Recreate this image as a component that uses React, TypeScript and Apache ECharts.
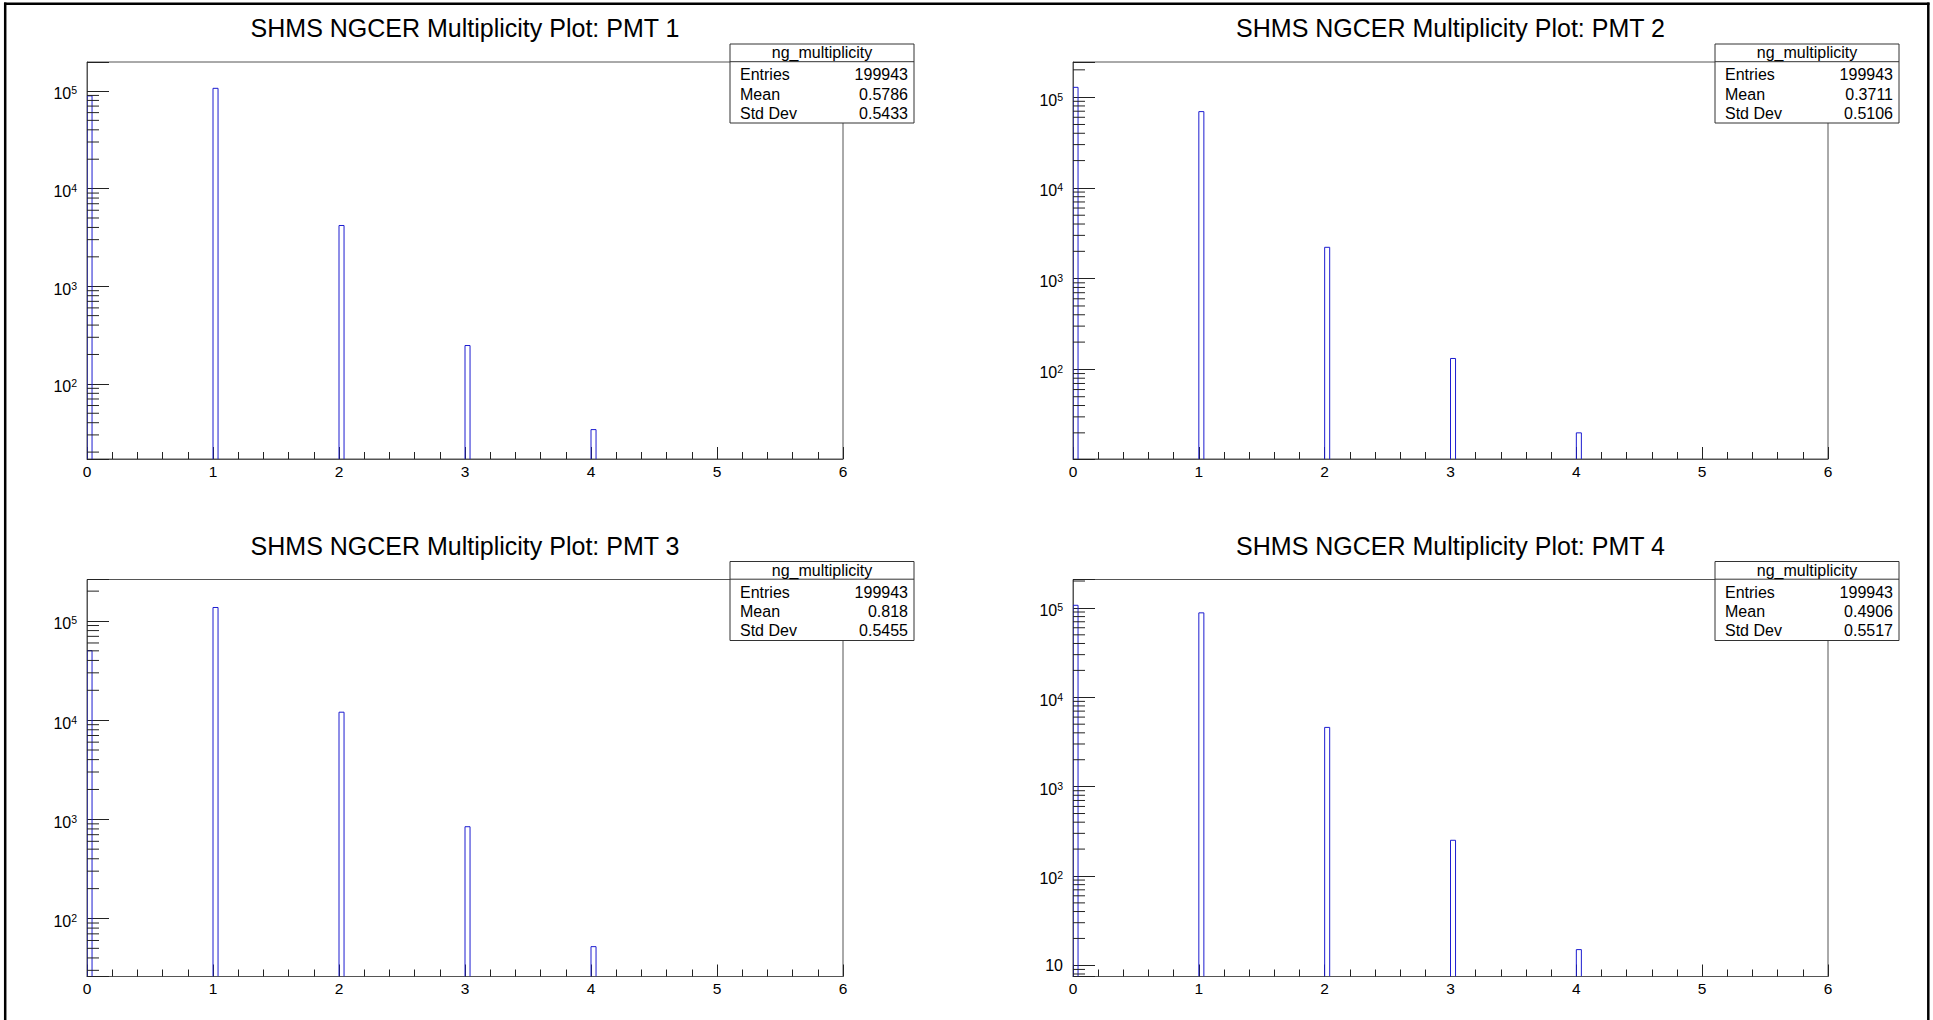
import React, { useEffect, useRef } from "react";
import * as echarts from "echarts";

// ---- Data -------------------------------------------------------------
const PANEL_TITLES = [
  "SHMS NGCER Multiplicity Plot: PMT 1",
  "SHMS NGCER Multiplicity Plot: PMT 2",
  "SHMS NGCER Multiplicity Plot: PMT 3",
  "SHMS NGCER Multiplicity Plot: PMT 4",
];

// hit multiplicity values (bin low edges) and bin width of the histogram
const MULTIPLICITY = [0, 1, 2, 3, 4];
const BIN_WIDTH = 0.04;

// counts per multiplicity, one array per PMT
const PMT1_COUNTS = [89041, 106432, 4189, 247, 34];
const PMT2_COUNTS = [128284, 69291, 2216, 132, 20];
const PMT3_COUNTS = [50257, 136765, 12027, 842, 52];
const PMT4_COUNTS = [106999, 88077, 4601, 251, 15];
const PMT_COUNTS = [PMT1_COUNTS, PMT2_COUNTS, PMT3_COUNTS, PMT4_COUNTS];

// axis ranges
const X_MIN = 0;
const X_MAX = 6;
const X_INTERVAL = 1;
const Y_MIN = [17, 10.3, 26, 7.5];
const Y_MAX = [1.98e5, 2.44e5, 2.62e5, 2.08e5];
const LOG_MINOR_MULTIPLIERS = [2, 3, 4, 5, 6, 7, 8, 9];
const LOG_DECADES = [0, 1, 2, 3, 4, 5];

// statistics boxes
const HIST_NAME = "ng_multiplicity";
const STAT_LABELS = ["Entries", "Mean", "Std Dev"];
const STAT_ENTRIES = ["199943", "199943", "199943", "199943"];
const STAT_MEAN = ["0.5786", "0.3711", "0.818", "0.4906"];
const STAT_STDDEV = ["0.5433", "0.5106", "0.5455", "0.5517"];

// ---- Layout / style ----------------------------------------------------
const FONT = "Liberation Sans, Arial, Helvetica, sans-serif";
const FRAMES = [
  { left: 87, top: 62, width: 756, height: 397 },
  { left: 1073, top: 62, width: 755, height: 397 },
  { left: 87, top: 579.5, width: 756, height: 397 },
  { left: 1073, top: 579.5, width: 755, height: 397 },
];
const FRAME_COLOR = "#555555";
const TICK_COLOR = "#222222";
const BAR_COLOR = "#1c1cd0";
const STAT_FONT_SIZE = 16;

function powerLabel(v: number): string {
  const e = Math.log10(v);
  const k = Math.round(e);
  if (Math.abs(e - k) > 1e-6) return "";
  if (k === 1) return "{p|10}";
  return `{b|10}{s|${k}}`;
}

function buildOption(): any {
  const grids: any[] = [];
  const xAxes: any[] = [];
  const yAxes: any[] = [];
  const series: any[] = [];
  const graphics: any[] = [];

  FRAMES.forEach((f, i) => {
    grids.push({
      left: f.left,
      top: f.top,
      width: f.width,
      height: f.height,
      show: true,
      borderColor: FRAME_COLOR,
      borderWidth: 1,
      backgroundColor: "transparent",
      containLabel: false,
      outerBoundsMode: "none",
    });

    xAxes.push({
      type: "value",
      gridIndex: i,
      min: X_MIN,
      max: X_MAX,
      interval: X_INTERVAL,
      axisLine: { show: true, onZero: false, lineStyle: { color: FRAME_COLOR, width: 1 } },
      axisTick: { show: true, inside: true, length: 12, lineStyle: { color: TICK_COLOR, width: 1 } },
      minorTick: { show: true, splitNumber: 5, length: 7, lineStyle: { color: TICK_COLOR, width: 1 } },
      splitLine: { show: false },
      minorSplitLine: { show: false },
      axisLabel: {
        show: true,
        margin: 4,
        color: "#000",
        fontFamily: FONT,
        fontSize: 15.5,
        formatter: (v: number) => String(v),
      },
    });

    yAxes.push({
      type: "log",
      logBase: 10,
      gridIndex: i,
      min: Y_MIN[i],
      max: Y_MAX[i],
      axisLine: { show: true, lineStyle: { color: FRAME_COLOR, width: 1 } },
      axisTick: { show: true, inside: true, length: 22, lineStyle: { color: TICK_COLOR, width: 1 } },
      splitLine: { show: false },
      minorTick: { show: false },
      minorSplitLine: { show: false },
      axisLabel: {
        show: true,
        margin: 10,
        color: "#000",
        fontFamily: FONT,
        formatter: powerLabel,
        rich: {
          b: { fontSize: 16, lineHeight: 16, padding: [6, 0, 0, 0], fontFamily: FONT, color: "#000" },
          s: { fontSize: 10.5, lineHeight: 11, padding: [5, 0, 6, 0], fontFamily: FONT, color: "#000" },
          p: { fontSize: 16, lineHeight: 16, fontFamily: FONT, color: "#000" },
        },
      },
    });

    // histogram bins as open outlines
    const counts = PMT_COUNTS[i];
    const binData = MULTIPLICITY.map((m, j) => [m, m + BIN_WIDTH, counts[j]]);
    series.push({
      type: "custom",
      xAxisIndex: i,
      yAxisIndex: i,
      clip: true,
      silent: true,
      encode: { x: [0, 1], y: 2 },
      data: binData,
      renderItem: (params: any, api: any) => {
        const cs = params.coordSys;
        const base = cs.y + cs.height;
        const pL = api.coord([api.value(0), api.value(2)]);
        const pR = api.coord([api.value(1), api.value(2)]);
        return {
          type: "polyline",
          shape: { points: [[pL[0], base], pL, pR, [pR[0], base]] },
          style: { fill: "none", stroke: BAR_COLOR, lineWidth: 1 },
        };
      },
      z: 3,
    });

    // logarithmic minor ticks on the y axis (2..9 x 10^k)
    const minorValues: number[][] = [];
    LOG_DECADES.forEach((d) => {
      LOG_MINOR_MULTIPLIERS.forEach((m) => {
        const v = m * Math.pow(10, d);
        if (v >= Y_MIN[i] && v <= Y_MAX[i]) minorValues.push([X_MIN, v]);
      });
    });
    series.push({
      type: "custom",
      xAxisIndex: i,
      yAxisIndex: i,
      clip: false,
      silent: true,
      encode: { x: 0, y: 1 },
      data: minorValues,
      renderItem: (params: any, api: any) => {
        const cs = params.coordSys;
        const y = api.coord([api.value(0), api.value(1)])[1];
        return {
          type: "line",
          shape: { x1: cs.x, y1: y, x2: cs.x + 12, y2: y },
          style: { stroke: TICK_COLOR, lineWidth: 1 },
        };
      },
      z: 4,
    });

    // title
    graphics.push({
      type: "text",
      x: f.left + f.width / 2,
      y: f.top - 34,
      z: 50,
      style: {
        text: PANEL_TITLES[i],
        fontFamily: FONT,
        fontSize: 25,
        fill: "#000",
        align: "center",
        verticalAlign: "middle",
      },
    });

    // statistics box
    const right = f.left + f.width;
    const bx = right - 113;
    const by = f.top - 18;
    const bw = 184;
    const bh = 79;
    const headH = 17.7;
    const rowYs = [by + 30.6, by + 50, by + 69.3];
    const values = [STAT_ENTRIES[i], STAT_MEAN[i], STAT_STDDEV[i]];
    const children: any[] = [
      {
        type: "rect",
        shape: { x: bx, y: by, width: bw, height: bh },
        style: { fill: "#fff", stroke: "#333", lineWidth: 1 },
      },
      {
        type: "line",
        shape: { x1: bx, y1: by + headH, x2: bx + bw, y2: by + headH },
        style: { stroke: "#333", lineWidth: 1 },
      },
      {
        type: "text",
        x: bx + bw / 2,
        y: by + headH / 2,
        style: {
          text: HIST_NAME,
          fontFamily: FONT,
          fontSize: STAT_FONT_SIZE,
          fill: "#000",
          align: "center",
          verticalAlign: "middle",
        },
      },
    ];
    STAT_LABELS.forEach((lab, r) => {
      children.push({
        type: "text",
        x: bx + 10,
        y: rowYs[r],
        style: { text: lab, fontFamily: FONT, fontSize: STAT_FONT_SIZE, fill: "#000", align: "left", verticalAlign: "middle" },
      });
      children.push({
        type: "text",
        x: bx + bw - 6,
        y: rowYs[r],
        style: { text: values[r], fontFamily: FONT, fontSize: STAT_FONT_SIZE, fill: "#000", align: "right", verticalAlign: "middle" },
      });
    });
    graphics.push({ type: "group", z: 60, children });
  });

  // canvas border
  graphics.push({
    type: "group",
    z: 70,
    children: [
      { type: "line", shape: { x1: 5.2, y1: 2.5, x2: 5.2, y2: 1020 }, style: { stroke: "#000", lineWidth: 2.5 } },
      { type: "line", shape: { x1: 4, y1: 3.7, x2: 1929.5, y2: 3.7 }, style: { stroke: "#000", lineWidth: 2.5 } },
      { type: "line", shape: { x1: 1928.3, y1: 2.5, x2: 1928.3, y2: 1020 }, style: { stroke: "#000", lineWidth: 2.5 } },
    ],
  });

  return {
    animation: false,
    backgroundColor: "#ffffff",
    grid: grids,
    xAxis: xAxes,
    yAxis: yAxes,
    series,
    graphic: graphics,
  };
}

export default function App() {
  const ref = useRef<HTMLDivElement>(null);
  useEffect(() => {
    if (!ref.current) return;
    const chart = echarts.init(ref.current, undefined, { renderer: "svg" });
    chart.setOption(buildOption());
    return () => chart.dispose();
  }, []);
  return (
    <div
      ref={ref}
      style={{ position: "fixed", left: 0, top: 0, width: 1933, height: 1020, background: "#fff" }}
    />
  );
}
